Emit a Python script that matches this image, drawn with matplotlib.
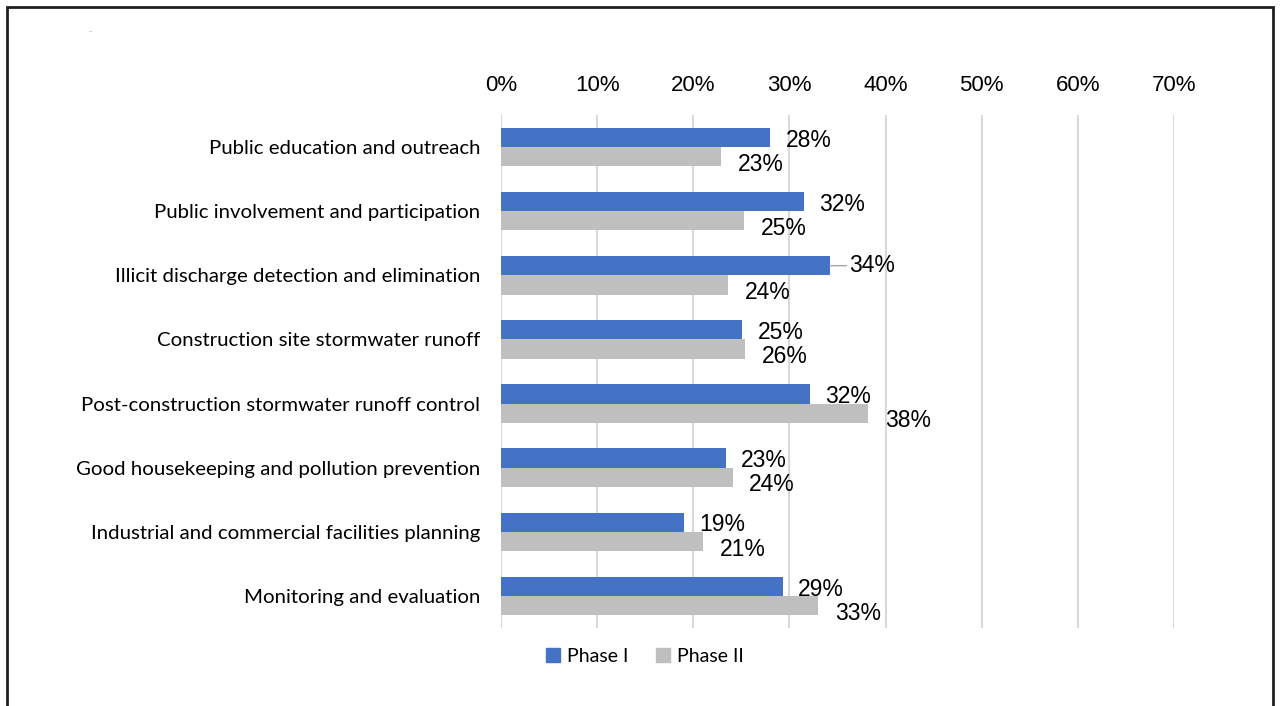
import numpy as np
import matplotlib.pyplot as plt
from matplotlib.patches import Rectangle, Patch

# data
categorie = ['Public education and outreach',
             'Public involvement and participation',
             'Illicit discharge detection and elimination',
             'Construction site stormwater runoff',
             'Post-construction stormwater runoff control',
             'Good housekeeping and pollution prevention',
             'Industrial and commercial facilities planning',
             'Monitoring and evaluation']
fase1 = np.array([28.0, 31.5, 34.2, 25.1, 32.1, 23.4, 19.0, 29.3])
fase2 = np.array([22.9, 25.3, 23.6, 25.4, 38.2, 24.1, 21.0, 33.0])
etichette1 = ['28%', '32%', '34%', '25%', '32%', '23%', '19%', '29%']
etichette2 = ['23%', '25%', '24%', '26%', '38%', '24%', '21%', '33%']
valori_x = [0, 10, 20, 30, 40, 50, 60, 70]

blu = '#4472C4'
grigio = '#BFBFBF'

fig = plt.figure(figsize=(12.8, 7.06), dpi=100)
ax = fig.add_axes([0.3914, 0.1105, 0.5258, 0.7266])

y = np.arange(len(categorie))
h = 0.3
ax.barh(y - h / 2, fase1, height=h, color=blu, zorder=3)
ax.barh(y + h / 2, fase2, height=h, color=grigio, zorder=3)

ax.set_xlim(0, 70)
ax.set_ylim(len(categorie) - 0.5, -0.5)
ax.set_xticks(valori_x)
ax.set_xticklabels([f'{v}%' for v in valori_x], fontfamily='Liberation Sans', fontsize=16)
ax.xaxis.tick_top()
ax.tick_params(axis='x', length=0, pad=14)
ax.set_yticks(y)
ax.set_yticklabels(categorie, fontfamily='Lato', fontsize=14.7)
ax.tick_params(axis='y', length=0, pad=15)
ax.grid(axis='x', color='#D9D9D9', linewidth=1.5, zorder=0)
for s in ax.spines.values():
    s.set_visible(False)

# etichette dei valori
for i in range(len(categorie)):
    if etichette1[i] == '34%':
        ax.annotate(etichette1[i], xy=(fase1[i], i - h / 2), xytext=(14, 0),
                    textcoords='offset points', va='center', ha='left',
                    fontfamily='Liberation Sans', fontsize=16.5,
                    arrowprops=dict(arrowstyle='-', color='#A6A6A6', lw=1,
                                    shrinkA=0, shrinkB=0))
    else:
        ax.annotate(etichette1[i], xy=(fase1[i], i - h / 2), xytext=(11, -2),
                    textcoords='offset points', va='center', ha='left',
                    fontfamily='Liberation Sans', fontsize=16.5)
    ax.annotate(etichette2[i], xy=(fase2[i], i + h / 2), xytext=(12, -5.5),
                textcoords='offset points', va='center', ha='left',
                fontfamily='Liberation Sans', fontsize=16.5)

legenda = [Patch(color=blu, label='Phase I'), Patch(color=grigio, label='Phase II')]
fig.legend(handles=legenda, loc='center', bbox_to_anchor=(0.504, 0.0708), ncol=2,
           frameon=False, prop={'family': 'Lato', 'size': 14},
           handlelength=0.7, handleheight=0.7, handletextpad=0.4, columnspacing=1.4)

# cornice
fig.patches.append(Rectangle((7 / 1280, -0.05), 1266 / 1280, 1.05 - 7 / 706,
                             transform=fig.transFigure, fill=False,
                             edgecolor='#231F20', linewidth=2))
fig.text(90 / 1280, 1 - 32 / 706, '-', color='#BBBBBB', fontsize=6, ha='center', va='center')

fig.savefig('out.png', dpi=100)
